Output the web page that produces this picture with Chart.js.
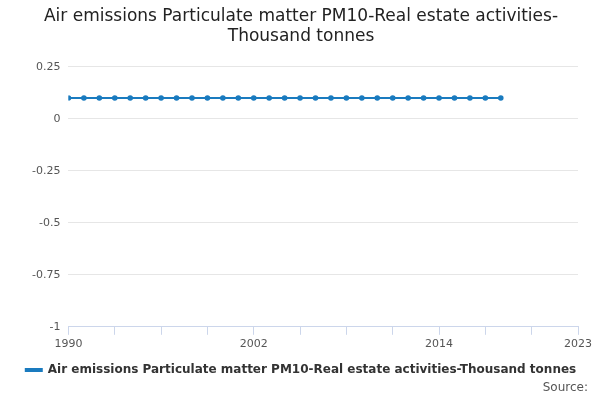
<!DOCTYPE html>
<html>
<head>
<meta charset="utf-8">
<script src="https://cdn.jsdelivr.net/npm/chart.js@4/dist/chart.umd.min.js"></script>
<style>
  html, body { margin: 0; padding: 0; background: #fff; }
  #wrap { width: 600px; height: 400px; position: relative; }
  #source { position: absolute; right: 12px; bottom: 6px; font: 12px "DejaVu Sans", sans-serif; color: #555; }
</style>
</head>
<body>
<div id="wrap">
  <canvas id="chart" width="600" height="400"></canvas>
  <div id="source">Source:</div>
</div>
<script>
  const years = [1990, 1991, 1992, 1993, 1994, 1995, 1996, 1997, 1998, 1999,
    2000, 2001, 2002, 2003, 2004, 2005, 2006, 2007, 2008, 2009,
    2010, 2011, 2012, 2013, 2014, 2015, 2016, 2017, 2018];
  const values = [0.1, 0.1, 0.1, 0.1, 0.1, 0.1, 0.1, 0.1, 0.1, 0.1,
    0.1, 0.1, 0.1, 0.1, 0.1, 0.1, 0.1, 0.1, 0.1, 0.1,
    0.1, 0.1, 0.1, 0.1, 0.1, 0.1, 0.1, 0.1, 0.1];
  const xLabels = [1990, 2002, 2014, 2023];
  const yLabels = { "0.25": "0.25", "0": "0", "-0.25": "-0.25", "-0.5": "-0.5", "-0.75": "-0.75", "-1": "-1" };
  const seriesName = "Air emissions Particulate matter PM10-Real estate activities-Thousand tonnes";

  const font = "'DejaVu Sans', sans-serif";

  new Chart(document.getElementById("chart"), {
    type: "line",
    data: {
      datasets: [{
        label: seriesName,
        data: years.map((y, i) => ({ x: y, y: values[i] })),
        borderColor: "#1a7bbf",
        backgroundColor: "#1a7bbf",
        borderWidth: 2,
        pointRadius: 1.8,
        pointHoverRadius: 3,
      }],
    },
    options: {
      responsive: false,
      animation: false,
      layout: { padding: { left: 24, right: 22, bottom: 14 } },
      plugins: {
        title: {
          display: true,
          text: ["Air emissions Particulate matter PM10-Real estate activities-", "Thousand tonnes"],
          font: { family: font, size: 17, weight: "normal" },
          color: "#222",
          padding: { top: 6, bottom: 20 },
        },
        legend: {
          position: "bottom",
          labels: {
            font: { family: font, size: 12, weight: "bold" },
            color: "#333",
            boxWidth: 16,
            boxHeight: 2,
          },
        },
      },
      scales: {
        x: {
          type: "linear",
          min: 1990,
          max: 2023,
          ticks: {
            stepSize: 3,
            autoSkip: false,
            maxRotation: 0,
            font: { family: font, size: 11 },
            color: "#555",
            callback: (v) => (xLabels.includes(v) ? String(v) : ""),
          },
          grid: { drawOnChartArea: false, color: "#ccd6eb", tickLength: 8 },
          border: { color: "#ccd6eb" },
        },
        y: {
          min: -1,
          max: 0.25,
          ticks: {
            stepSize: 0.25,
            font: { family: font, size: 11 },
            color: "#555",
            padding: 8,
            callback: (v) => yLabels[String(Math.round(v * 100) / 100)] ?? "",
          },
          grid: { color: "#e6e6e6", drawTicks: false },
          border: { display: false },
        },
      },
    },
  });
</script>
</body>
</html>
